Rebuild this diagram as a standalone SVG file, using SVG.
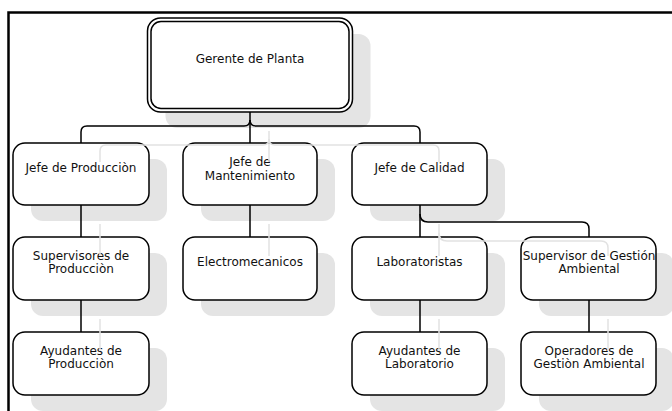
<svg xmlns="http://www.w3.org/2000/svg" width="672" height="411" viewBox="0 0 672 411">
<style>
.sh{fill:#e4e4e4;stroke:none}
.box{fill:#fff;stroke:#000;stroke-width:1.5}
.c{fill:none;stroke:#000;stroke-width:1.5}
.cs{fill:none;stroke:#e2e2e2;stroke-width:1.5}
text{font-family:"DejaVu Sans",Verdana,sans-serif;font-size:12px;fill:#111;text-anchor:middle}
</style>
<rect width="672" height="411" fill="#fff"/>
<path d="M8.5,411 V12.5 H672" fill="none" stroke="#000" stroke-width="2.5"/>
<g id="shadows">
<rect class="sh" x="165.5" y="34" width="205" height="94" rx="12"/>
<rect class="sh" x="31" y="159" width="136" height="62" rx="12"/>
<rect class="sh" x="201" y="159" width="134" height="62" rx="12"/>
<rect class="sh" x="370" y="159" width="135" height="62" rx="12"/>
<rect class="sh" x="31" y="253" width="136" height="63" rx="12"/>
<rect class="sh" x="201" y="253" width="134" height="63" rx="12"/>
<rect class="sh" x="370" y="253" width="135" height="63" rx="12"/>
<rect class="sh" x="539" y="253" width="135" height="63" rx="12"/>
<rect class="sh" x="31" y="348" width="136" height="63" rx="12"/>
<rect class="sh" x="370" y="348" width="135" height="63" rx="12"/>
<rect class="sh" x="539" y="348" width="135" height="63" rx="12"/>
</g>
<g id="n-gerente">
<rect class="box" x="147.5" y="18" width="205" height="94" rx="13"/>
<rect class="box" x="151" y="21.5" width="198" height="87" rx="10"/>
<text x="250" y="63">Gerente de Planta</text>
</g>
<g id="n-jprod">
<rect class="box" x="13" y="143" width="136" height="62" rx="12"/>
<text x="81" y="172">Jefe de Producciòn</text>
</g>
<g id="n-jmant">
<rect class="box" x="183" y="143" width="134" height="62" rx="12"/>
<text x="250" y="166">Jefe de</text>
<text x="250" y="180">Mantenimiento</text>
</g>
<g id="n-jcal">
<rect class="box" x="352" y="143" width="135" height="62" rx="12"/>
<text x="419.5" y="172">Jefe de Calidad</text>
</g>
<g id="n-sup">
<rect class="box" x="13" y="237" width="136" height="63" rx="12"/>
<text x="81" y="259.5">Supervisores de</text>
<text x="81" y="273">Producciòn</text>
</g>
<g id="n-elec">
<rect class="box" x="183" y="237" width="134" height="63" rx="12"/>
<text x="250" y="266">Electromecanicos</text>
</g>
<g id="n-lab">
<rect class="box" x="352" y="237" width="135" height="63" rx="12"/>
<text x="419.5" y="266">Laboratoristas</text>
</g>
<g id="n-supga">
<rect class="box" x="521" y="237" width="135" height="63" rx="12"/>
<text x="589" y="259.5">Supervisor de Gestión</text>
<text x="589" y="273">Ambiental</text>
</g>
<g id="n-ayprod">
<rect class="box" x="13" y="332" width="136" height="63" rx="12"/>
<text x="81" y="354.5">Ayudantes de</text>
<text x="81" y="367.5">Producciòn</text>
</g>
<g id="n-aylab">
<rect class="box" x="352" y="332" width="135" height="63" rx="12"/>
<text x="419.5" y="354.5">Ayudantes de</text>
<text x="419.5" y="367.5">Laboratorio</text>
</g>
<g id="n-oper">
<rect class="box" x="521" y="332" width="135" height="63" rx="12"/>
<text x="589" y="354.5">Operadores de</text>
<text x="589" y="367.5">Gestiòn Ambiental</text>
</g>
<g id="connector-shadows">
<path class="cs" d="M269,131 V162"/>
<path class="cs" d="M269,139 Q269,145 263,145 H106 Q100,145 100,151 V162"/>
<path class="cs" d="M269,139 Q269,145 275,145 H433 Q439,145 439,151 V162"/>
<path class="cs" d="M100,224 V256 M100,319 V351 M269,224 V256 M439,224 V256 M439,319 V351 M608,319 V351"/>
<path class="cs" d="M439,233 Q439,241 447,241 H601 Q608,241 608,248 V256"/>
</g>
<g id="connectors">
<path class="c" d="M250,112 V143"/>
<path class="c" d="M250,120 Q250,126 244,126 H87 Q81,126 81,132 V143"/>
<path class="c" d="M250,120 Q250,126 256,126 H414 Q420,126 420,132 V143"/>
<path class="c" d="M81,205 V237 M81,300 V332 M250,205 V237 M420,205 V237 M420,300 V332 M589,300 V332"/>
<path class="c" d="M420,214 Q420,222 428,222 H582 Q589,222 589,229 V237"/>
</g>
</svg>
